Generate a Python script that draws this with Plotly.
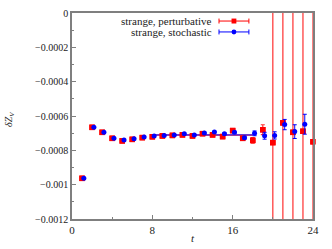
import plotly.graph_objects as go

# ---- data ----
t_pert = [1, 2, 3, 4, 5, 6, 7, 8, 9, 10, 11, 12, 13, 14, 15, 16, 17, 18, 19, 20, 21, 22, 23, 24]
dz_pert = [-0.000963, -0.000666, -0.000695, -0.00073, -0.000745, -0.000736, -0.000726, -0.000721,
           -0.000716, -0.000713, -0.00071, -0.000716, -0.000703, -0.00071, -0.00072, -0.000685,
           -0.00073, -0.000742, -0.00068, -0.000755, -0.00064, -0.000695, -0.000689, -0.00075]
err_pert = [0.000003, 0.000003, 0.000003, 0.000003, 0.000003, 0.000003, 0.000003, 0.000003,
            0.000003, 0.000003, 0.000004, 0.000004, 0.000005, 0.000005, 0.000006, 0.000007,
            0.00001, 0.000016, 0.000029, 0.01, 0.01, 0.01, 0.01, 0.01]

t_stoch = [1, 2, 3, 4, 5, 6, 7, 8, 9, 10, 11, 12, 13, 14, 15, 16, 17, 18, 19, 20, 21, 22, 23]
dz_stoch = [-0.000962, -0.000665, -0.000694, -0.000729, -0.00074, -0.000732, -0.000722, -0.000717,
            -0.000713, -0.000711, -0.000703, -0.00071, -0.000699, -0.000693, -0.000703, -0.000695,
            -0.000726, -0.000701, -0.000715, -0.000713, -0.00065, -0.000691, -0.000648]
err_stoch = [0.000002, 0.000002, 0.000002, 0.000002, 0.000002, 0.000002, 0.000002, 0.000002,
             0.000002, 0.000002, 0.000003, 0.000003, 0.000004, 0.000004, 0.000005, 0.000006,
             0.000008, 0.000014, 0.00002, 0.000021, 0.00003, 0.00004, 0.000058]
stoch_shift = 0.18

fit_t = [8, 18]
fit_value = -0.00071

x_ticks = [0, 8, 16, 24]
y_ticks = [0, -0.0002, -0.0004, -0.0006, -0.0008, -0.001, -0.0012]
y_ticktext = ["0", "\u22120.0002", "\u22120.0004", "\u22120.0006", "\u22120.0008", "\u22120.001", "\u22120.0012"]

RED = "#ff0000"
BLUE = "#0000ff"
AXIS = "#7f7f7f"
FONT = "Liberation Serif"

fig = go.Figure()

# fit line
fig.add_trace(go.Scatter(x=fit_t, y=[fit_value] * len(fit_t), mode="lines",
                         line=dict(color="#ff4040", width=2), showlegend=False))
fig.add_trace(go.Scatter(x=fit_t, y=[fit_value] * len(fit_t), mode="lines",
                         line=dict(color="#3a3aff", width=1.3), showlegend=False))

# perturbative
fig.add_trace(go.Scatter(
    x=t_pert, y=dz_pert, mode="markers",
    marker=dict(symbol="square", size=5.5, color=RED),
    error_y=dict(type="data", array=err_pert, color="#ff3030", thickness=1.2, width=2),
    cliponaxis=True, showlegend=False))
fig.add_trace(go.Scatter(
    x=t_pert, y=dz_pert, mode="markers",
    marker=dict(symbol="square", size=5.5, color=RED),
    cliponaxis=False, showlegend=False, hoverinfo="skip"))

# stochastic
fig.add_trace(go.Scatter(
    x=[t + stoch_shift for t in t_stoch], y=dz_stoch, mode="markers",
    marker=dict(symbol="circle", size=5, color=BLUE),
    error_y=dict(type="data", array=err_stoch, color=BLUE, thickness=1, width=2),
    cliponaxis=True, showlegend=False))

# ---- manual legend (symbol to the right of text, gnuplot style) ----
legend_items = [("strange, perturbative", RED, "square", 0.961),
                ("strange, stochastic", BLUE, "circle", 0.908)]
x_text = 0.589
x0, x1 = 0.610, 0.734
xc = (x0 + x1) / 2
for label, col, sym, yy in legend_items:
    fig.add_annotation(x=x_text, y=yy, xref="paper", yref="paper", text=label,
                       showarrow=False, xanchor="right", yanchor="middle",
                       font=dict(family=FONT, size=11, color="#222"))
    fig.add_shape(type="line", xref="paper", yref="paper", x0=x0, x1=x1, y0=yy, y1=yy,
                  line=dict(color=col, width=1))
    for xe in (x0, x1):
        fig.add_shape(type="line", xref="paper", yref="paper", x0=xe, x1=xe,
                      y0=yy - 0.012, y1=yy + 0.012, line=dict(color=col, width=1))
    dx, dy = 0.010, 0.012
    fig.add_shape(type="rect" if sym == "square" else "circle", xref="paper", yref="paper",
                  x0=xc - dx, x1=xc + dx, y0=yy - dy, y1=yy + dy,
                  fillcolor=col, line=dict(color=col, width=0))

# axis titles
fig.add_annotation(x=-0.262, y=0.485, xref="paper", yref="paper",
                   text="<i>δZ</i><sub><i>V</i></sub>", showarrow=False, textangle=-90,
                   xanchor="center", yanchor="middle",
                   font=dict(family=FONT, size=10, color="#222"))
fig.add_annotation(x=0.5, y=-0.094, xref="paper", yref="paper", text="<i>t</i>",
                   showarrow=False, xanchor="center", yanchor="middle",
                   font=dict(family=FONT, size=11, color="#222"))

fig.update_layout(
    width=332, height=249,
    margin=dict(l=72, r=19, t=13, b=30, autoexpand=False),
    paper_bgcolor="white", plot_bgcolor="white",
    font=dict(family=FONT, size=10, color="#222"),
    showlegend=False,
    xaxis=dict(range=[0, 24], tickvals=x_ticks, ticks="inside", ticklen=4, tickcolor=AXIS,
               minor=dict(dtick=4, ticks="inside", ticklen=2, tickcolor=AXIS),
               showgrid=False, zeroline=False, showline=True, linecolor=AXIS, linewidth=1.5,
               mirror=True, automargin=False, tickfont=dict(family=FONT, size=11)),
    yaxis=dict(range=[-0.0012, 0], tickvals=y_ticks, ticktext=y_ticktext, ticks="inside",
               ticklen=4, tickcolor=AXIS,
               minor=dict(dtick=0.0001, ticks="inside", ticklen=2, tickcolor=AXIS),
               showgrid=False, zeroline=False, showline=True, linecolor=AXIS, linewidth=1.5,
               mirror=True, automargin=False, tickfont=dict(family=FONT, size=10)),
)

fig.write_html("out.html", config={"displayModeBar": False},
               post_script="document.body.style.margin='0';")
